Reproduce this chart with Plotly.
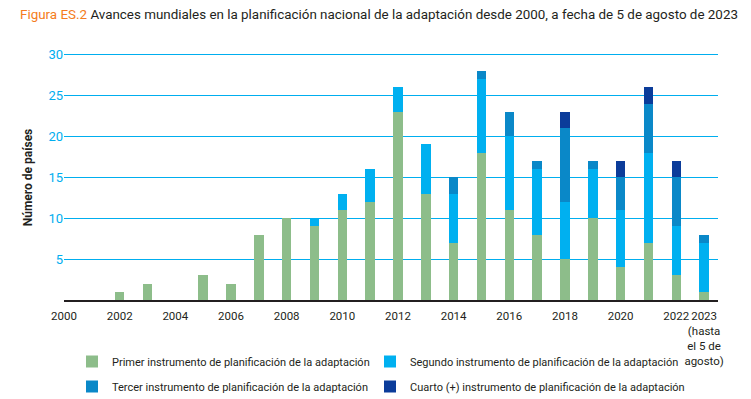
import plotly.graph_objects as go

years = list(range(2000, 2024))
primer = [0, 0, 1, 2, 0, 3, 2, 8, 10, 9, 11, 12, 23, 13, 7, 18, 11, 8, 5, 10, 4, 7, 3, 1]
segundo = [0, 0, 0, 0, 0, 0, 0, 0, 0, 1, 2, 4, 3, 6, 6, 9, 9, 8, 7, 6, 7, 11, 6, 6]
tercero = [0, 0, 0, 0, 0, 0, 0, 0, 0, 0, 0, 0, 0, 0, 2, 1, 3, 1, 9, 1, 4, 6, 6, 1]
cuarto = [0, 0, 0, 0, 0, 0, 0, 0, 0, 0, 0, 0, 0, 0, 0, 0, 0, 0, 2, 0, 2, 2, 2, 0]

series_names = [
    "Primer instrumento de planificación de la adaptación",
    "Segundo instrumento de planificación de la adaptación",
    "Tercer instrumento de planificación de la adaptación",
    "Cuarto (+) instrumento de planificación de la adaptación",
]
series_colors = ["#8dbd8a", "#00b0f0", "#0a88c8", "#0b3c9a"]
series_legend = ["legend", "legend2", "legend", "legend2"]

tick_vals = [2000, 2002, 2004, 2006, 2008, 2010, 2012, 2014, 2016, 2018, 2020, 2022, 2023]
tick_text = ["2000", "2002", "2004", "2006", "2008", "2010", "2012", "2014", "2016",
             "2018", "2020", "2022", "2023<br>(hasta<br>el 5 de<br>agosto)"]
y_ticks = [5, 10, 15, 20, 25, 30]
y_title = "Número de países"

title_lead = "Figura ES.2"
title_rest = "Avances mundiales en la planificación nacional de la adaptación desde 2000, a fecha de 5 de agosto de 2023"

FONT = "Roboto, sans-serif"
DARK = "#231f20"

fig = go.Figure()
for i, (name, vals, col, leg) in enumerate(zip(series_names, [primer, segundo, tercero, cuarto],
                                               series_colors, series_legend)):
    fig.add_trace(go.Bar(x=years, y=vals, name=name, marker=dict(color=col, line=dict(width=0)),
                         width=0.34, legend=leg, legendgroup=f"g{i}"))

legend_common = dict(
    orientation="v", xanchor="left", xref="container",
    yanchor="top", yref="container", y=1 - 347 / 399,
    font=dict(size=11, color=DARK), traceorder="grouped", tracegroupgap=6,
    itemclick=False, itemdoubleclick=False, bgcolor="rgba(0,0,0,0)",
)

fig.update_layout(
    barmode="stack",
    width=751, height=399,
    margin=dict(l=64, r=33, t=52, b=99, autoexpand=False),
    paper_bgcolor="white", plot_bgcolor="white",
    font=dict(family=FONT, color=DARK, size=12),
    title=dict(
        text=f"<span style='color:#f47c20'>{title_lead}</span> {title_rest}",
        x=20 / 751, xanchor="left", xref="container",
        y=1 - 14 / 399, yanchor="middle", yref="container",
        font=dict(family=FONT, size=13.4, color=DARK),
        automargin=False,
    ),
    xaxis=dict(
        range=[2000, 2023.5], tickvals=tick_vals, ticktext=tick_text, automargin=False,
        showgrid=False, showline=True, linecolor=DARK, linewidth=2,
        ticks="", tickfont=dict(size=11.5, color=DARK), tickangle=0, zeroline=False,
        ticklabelstandoff=4,
    ),
    yaxis=dict(
        range=[0, 30.3], tickvals=y_ticks, showgrid=True, gridcolor="#00aeef", gridwidth=1,
        zeroline=False, ticks="", tickfont=dict(size=13, color="#00aeef"), automargin=False,
    ),
    legend=dict(x=72 / 751, **legend_common),
    legend2=dict(x=370 / 751, **legend_common),
    showlegend=True,
    annotations=[dict(
        text=f"<b>{y_title}</b>", textangle=-90, showarrow=False,
        xref="paper", x=-36 / 654, xanchor="center",
        yref="paper", y=0.5 * 30 / 30.3, yanchor="middle",
        font=dict(family=FONT, size=12, color=DARK),
    )],
)

fig.write_html("out.html", post_script="document.body.style.margin='0px';",
               config={"displayModeBar": False})
